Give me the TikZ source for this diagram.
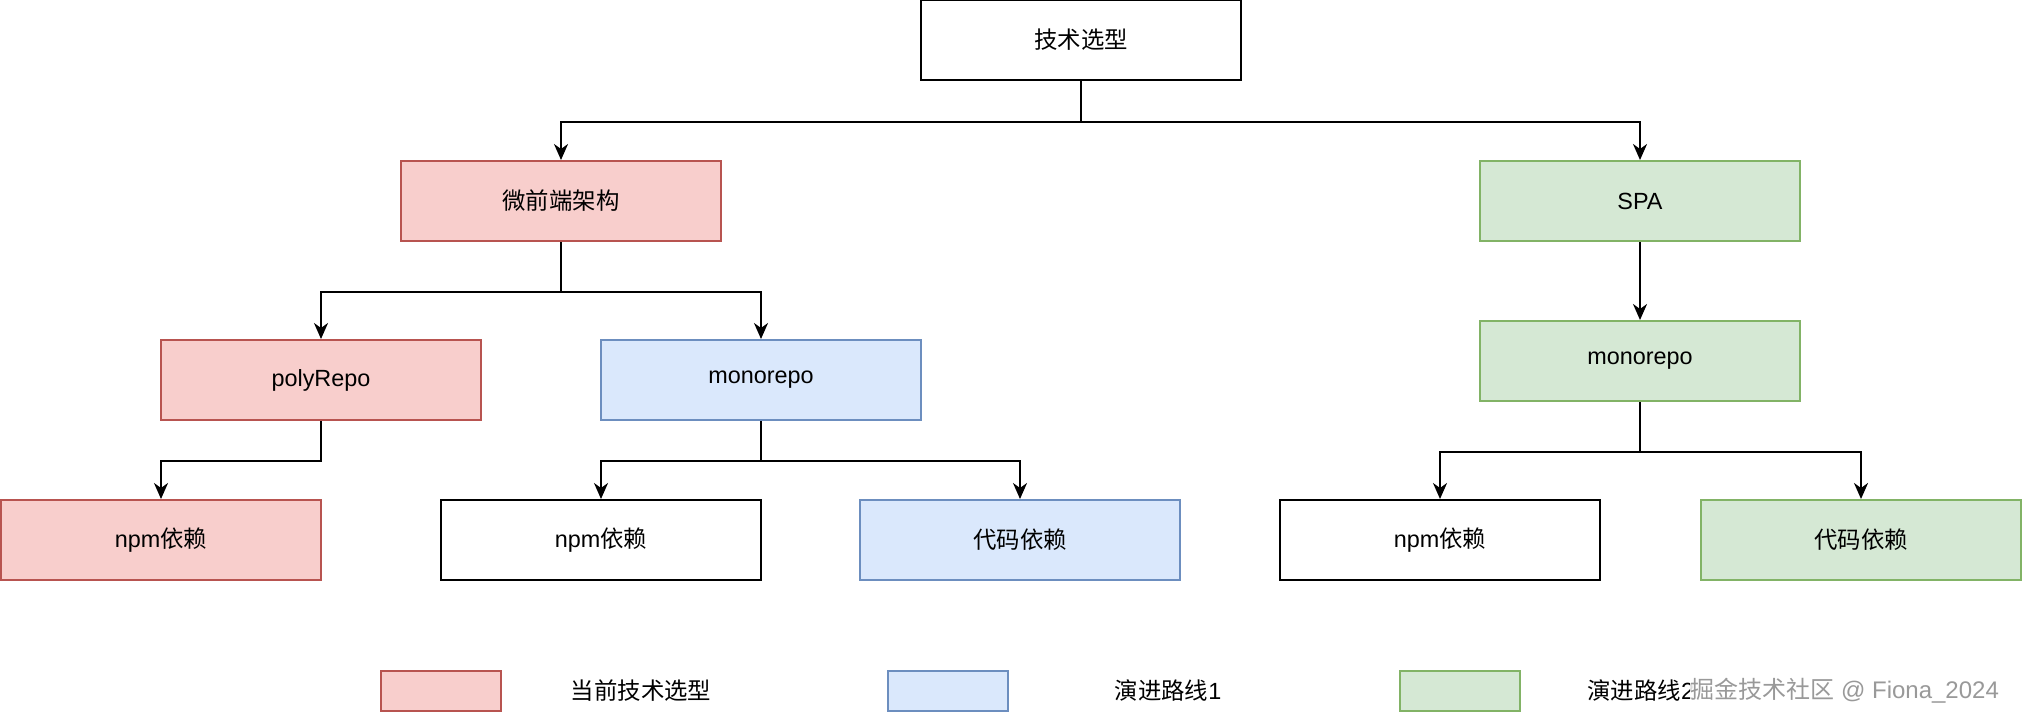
\documentclass[tikz,border=0pt]{standalone}
\usepackage{fontspec}
\setmainfont{Liberation Sans}
\newfontfamily\cjk{Noto Sans CJK SC}
\newcommand{\zhtxt}[1]{{\cjk #1}}
\usetikzlibrary{arrows.meta,positioning}
\definecolor{redfill}{HTML}{F8CECC}
\definecolor{redline}{HTML}{B85450}
\definecolor{bluefill}{HTML}{DAE8FC}
\definecolor{blueline}{HTML}{6C8EBF}
\definecolor{greenfill}{HTML}{D5E8D4}
\definecolor{greenline}{HTML}{82B366}
\tikzset{
	box/.style={draw, line width=1pt, minimum width=160pt, minimum height=40pt,
		inner sep=0pt, font=\fontsize{11.7}{14}\selectfont},
	current/.style={box, fill=redfill, draw=redline},
	route1/.style={box, fill=bluefill, draw=blueline},
	route2/.style={box, fill=greenfill, draw=greenline},
	legendbox/.style={draw, line width=1pt, minimum width=60pt, minimum height=20pt, inner sep=0pt},
	legendtext/.style={inner sep=0pt, font=\fontsize{11.7}{14}\selectfont},
	link/.style={line width=1pt, -{Stealth[length=8pt,width=7pt,inset=2.5pt]}}
}
\begin{document}
\begin{tikzpicture}[x=0.5pt, y=-0.5pt]
\useasboundingbox (0,0) rectangle (2022,722);
% cajas
\node[box] (tech) at (1081,40) {\zhtxt{技术选型}};
\node[current] (mfe) at (561,201) {\zhtxt{微前端架构}};
\node[route2] (spa) at (1640,201) {SPA};
\node[current] (poly) at (321,380) {polyRepo};
\node[route1] (mono) at (761,380) {monorepo};
\node[route2] (spamono) at (1640,361) {monorepo};
\node[current] (polynpm) at (161,540) {npm\zhtxt{依赖}};
\node[box] (mononpm) at (601,540) {npm\zhtxt{依赖}};
\node[route1] (monocode) at (1020,540) {\zhtxt{代码依赖}};
\node[box] (spanpm) at (1440,540) {npm\zhtxt{依赖}};
\node[route2] (spacode) at (1861,540) {\zhtxt{代码依赖}};

% flechas
\draw[link] (tech.south) -- ++(0,41) -| (mfe.north);
\draw[link] (tech.south) -- ++(0,41) -| (spa.north);
\draw[link] (mfe.south) -- ++(0,50) -| (poly.north);
\draw[link] (mfe.south) -- ++(0,50) -| (mono.north);
\draw[link] (poly.south) -- ++(0,40) -| (polynpm.north);
\draw[link] (mono.south) -- ++(0,40) -| (mononpm.north);
\draw[link] (mono.south) -- ++(0,40) -| (monocode.north);
\draw[link] (spa) -- (spamono);
\draw[link] (spamono.south) -- ++(0,50) -| (spanpm.north);
\draw[link] (spamono.south) -- ++(0,50) -| (spacode.north);

% leyenda
\node[legendbox, fill=redfill, draw=redline] (legcur) at (441,691) {};
\node[legendtext] (legcurtxt) at (641,691) {\zhtxt{当前技术选型}};
\node[legendbox, fill=bluefill, draw=blueline] (legone) at (948,691) {};
\node[legendtext] (legonetxt) at (1168,691) {\zhtxt{演进路线}1};
\node[legendbox, fill=greenfill, draw=greenline] (legtwo) at (1460,691) {};
\node[legendtext, anchor=west] (legtwotxt) at (1587,691) {\zhtxt{演进路线}2};
\node[legendtext, anchor=west, text=gray!80, fill=white, fill opacity=0.85, text opacity=1,
	font=\fontsize{12}{14}\selectfont] (mark) at (1690,691) {\zhtxt{掘金技术社区} @ Fiona\_2024};
\end{tikzpicture}
\end{document}
